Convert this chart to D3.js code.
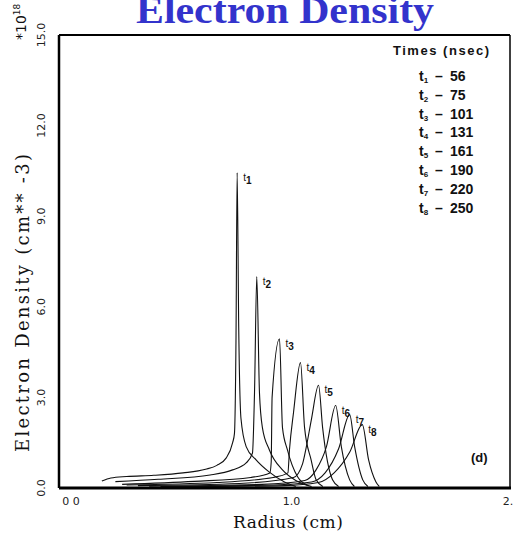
<!DOCTYPE html>
<html>
<head>
<meta charset="utf-8">
<script src="https://cdn.jsdelivr.net/npm/d3@7"></script>
<style>
body { margin: 0; background: #fff; }
svg { display: block; }
</style>
</head>
<body>
<svg width="516" height="536"></svg>
<script>
var svg = d3.select("svg");

// tick labels
var yTicks = [0, 3, 6, 9, 12, 15];
var xTicks = [0, 1, 2];
var xTickText = ["0 0", "1.0", "2."];

// times (nsec) for each profile
var names = ["1", "2", "3", "4", "5", "6", "7", "8"];
var times = [56, 75, 101, 131, 161, 190, 220, 250];

// radius (cm) / density (1e18 cm^-3) per profile
var r1 = [0.19, 0.23, 0.30, 0.42, 0.55, 0.65, 0.70, 0.741, 0.770, 0.778, 0.785, 0.790, 0.797, 0.807, 0.830, 0.874, 0.930, 1.000, 1.050];
var d1 = [0.23, 0.33, 0.38, 0.42, 0.50, 0.62, 0.75, 0.99, 1.50, 1.80, 5.00, 10.44, 5.30, 2.30, 1.37, 0.93, 0.54, 0.20, 0.05];
var r2 = [0.25, 0.44, 0.67, 0.77, 0.83, 0.858, 0.867, 0.877, 0.889, 0.902, 0.933, 0.991, 1.05, 1.12];
var d2 = [0.21, 0.29, 0.43, 0.60, 0.83, 1.16, 3.15, 7.00, 3.15, 2.00, 1.26, 0.60, 0.25, 0.05];
var r3 = [0.28, 0.60, 0.85, 0.935, 0.941, 0.945, 0.978, 0.991, 1.013, 1.058, 1.10];
var d3v = [0.12, 0.22, 0.35, 0.50, 0.85, 3.00, 4.94, 2.00, 1.26, 0.37, 0.10];
var r4 = [0.30, 0.70, 0.95, 1.015, 1.022, 1.040, 1.071, 1.089, 1.118, 1.140, 1.170];
var d4 = [0.10, 0.18, 0.35, 0.50, 1.26, 2.50, 4.15, 2.00, 0.93, 0.27, 0.05];
var r5 = [0.35, 0.80, 1.04, 1.08, 1.097, 1.12, 1.151, 1.169, 1.213, 1.240];
var d5 = [0.08, 0.15, 0.35, 0.80, 1.37, 2.30, 3.40, 2.00, 0.27, 0.05];
var r6 = [0.40, 0.90, 1.09, 1.14, 1.186, 1.227, 1.252, 1.289, 1.310];
var d6 = [0.06, 0.12, 0.25, 0.60, 1.37, 2.73, 1.37, 0.27, 0.05];
var r7 = [0.45, 0.95, 1.12, 1.18, 1.24, 1.289, 1.311, 1.347, 1.370];
var d7 = [0.05, 0.10, 0.20, 0.50, 1.30, 2.43, 1.37, 0.27, 0.05];
var r8 = [0.50, 1.00, 1.15, 1.22, 1.29, 1.345, 1.373, 1.405, 1.420];
var d8 = [0.04, 0.08, 0.18, 0.50, 1.20, 2.10, 0.93, 0.21, 0.05];

var radii = [r1, r2, r3, r4, r5, r6, r7, r8];
var dens = [d1, d2, d3v, d4, d5, d6, d7, d8];

var plotL = 59, plotR = 510, plotT = 35, plotB = 488;

var x = d3.scaleLinear().domain([0, 2]).range([plotL, plotR]);
var y = d3.scaleLinear().domain([0, 15]).range([plotB, plotT]);

// title
svg.append("text")
    .attr("x", 285).attr("y", 23)
    .attr("text-anchor", "middle")
    .attr("font-family", "Liberation Serif")
    .attr("font-weight", "bold")
    .attr("font-size", 38)
    .attr("textLength", 298)
    .attr("lengthAdjust", "spacingAndGlyphs")
    .attr("fill", "#3333cc")
    .text("Electron Density");

// curves
var line = d3.line()
    .x(function(p){ return x(p[0]); })
    .y(function(p){ return y(p[1]); })
    .curve(d3.curveMonotoneX);

var curves = radii.map(function(rr, i){
    return rr.map(function(r, j){ return [r, dens[i][j]]; });
});

svg.append("g").selectAll("path").data(curves).enter().append("path")
    .attr("d", line)
    .attr("fill", "none")
    .attr("stroke", "#111")
    .attr("stroke-width", 1.1);

// peak labels
var peaks = curves.map(function(c){
    return c.reduce(function(a, b){ return b[1] > a[1] ? b : a; });
});
var lab = svg.append("g").selectAll("text").data(peaks).enter().append("text")
    .attr("x", function(p){ return x(p[0]) + 6; })
    .attr("y", function(p){ return y(p[1]) + 8; })
    .attr("font-family", "Liberation Sans")
    .attr("font-size", 10)
    .attr("fill", "#111");
lab.append("tspan").text("t");
lab.append("tspan").attr("dy", 3).attr("font-size", 10).attr("font-weight", "bold")
    .text(function(p, i){ return names[i]; });

// frame
var frame = svg.append("g").attr("stroke", "#000").attr("fill", "none");
frame.append("line").attr("x1", plotL).attr("x2", plotR).attr("y1", plotT).attr("y2", plotT).attr("stroke-width", 2);
frame.append("line").attr("x1", plotL).attr("x2", plotR + 1).attr("y1", plotB).attr("y2", plotB).attr("stroke-width", 3);
frame.append("line").attr("x1", plotL).attr("x2", plotL).attr("y1", plotT).attr("y2", plotB).attr("stroke-width", 2.5);
frame.append("line").attr("x1", plotR).attr("x2", plotR).attr("y1", plotT).attr("y2", plotB).attr("stroke-width", 1.5);

// y tick labels (rotated)
svg.append("g").selectAll("text").data(yTicks).enter().append("text")
    .attr("transform", function(d){ return "translate(45," + y(d) + ") rotate(-90)"; })
    .attr("text-anchor", "middle")
    .attr("font-family", "DejaVu Sans")
    .attr("font-size", 11)
    .attr("fill", "#222")
    .text(function(d){ return d.toFixed(1); });

// x tick labels
svg.append("g").selectAll("text").data(xTicks).enter().append("text")
    .attr("x", function(d, i){ return x(d) + (i == 0 ? 12 : i == 1 ? 7 : -2); })
    .attr("y", 505)
    .attr("text-anchor", "middle")
    .attr("font-family", "DejaVu Sans")
    .attr("font-size", 11)
    .attr("fill", "#222")
    .text(function(d, i){ return xTickText[i]; });

// axis titles
svg.append("text")
    .attr("x", 288).attr("y", 528)
    .attr("text-anchor", "middle")
    .attr("font-family", "DejaVu Serif")
    .attr("font-size", 17)
    .attr("textLength", 110)
    .attr("fill", "#111")
    .text("Radius (cm)");

svg.append("text")
    .attr("transform", "translate(29,303) rotate(-90)")
    .attr("text-anchor", "middle")
    .attr("font-family", "DejaVu Serif")
    .attr("font-size", 18)
    .attr("textLength", 298)
    .attr("fill", "#111")
    .text("Electron Density (cm** -3)");

var mult = svg.append("text")
    .attr("transform", "translate(26,40) rotate(-90)")
    .attr("font-family", "DejaVu Sans")
    .attr("font-size", 14)
    .attr("fill", "#111");
mult.append("tspan").text("*10");
mult.append("tspan").attr("dy", -6).attr("font-size", 9).text("18");

// legend
svg.append("text")
    .attr("x", 393).attr("y", 55)
    .attr("font-family", "Liberation Sans")
    .attr("font-weight", "bold")
    .attr("font-size", 13)
    .attr("textLength", 96)
    .attr("fill", "#111")
    .text("Times (nsec)");

var leg = svg.append("g").selectAll("g").data(times).enter().append("g")
    .attr("transform", function(d, i){ return "translate(419," + (81 + i * 18.8) + ")"; })
    .attr("font-family", "Liberation Sans")
    .attr("font-weight", "bold")
    .attr("fill", "#111");
leg.append("text").attr("font-size", 14).text("t")
    .append("tspan").attr("dy", 2).attr("font-size", 8).text(function(d, i){ return names[i]; });
leg.append("text").attr("x", 16).attr("font-size", 14).text("\u2013");
leg.append("text").attr("x", 31).attr("font-size", 14).text(function(d){ return d; });

// panel tag
svg.append("text")
    .attr("x", 471).attr("y", 462)
    .attr("font-family", "Liberation Sans")
    .attr("font-weight", "bold")
    .attr("font-size", 13)
    .attr("fill", "#111")
    .text("(d)");
</script>
</body>
</html>
